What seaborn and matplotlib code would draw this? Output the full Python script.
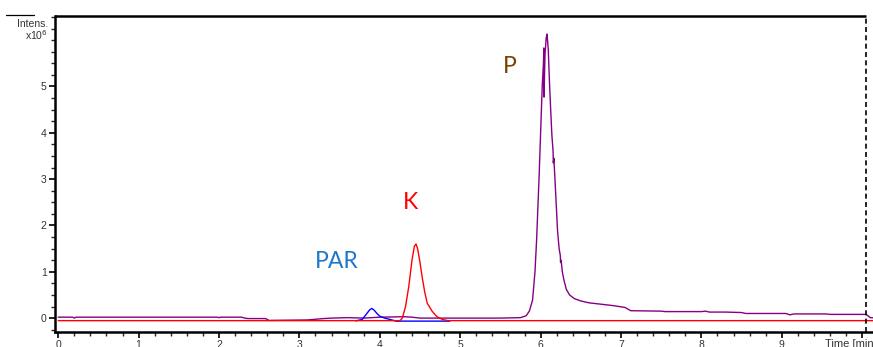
import matplotlib
matplotlib.use("Agg")
import matplotlib.pyplot as plt
import seaborn as sns
from matplotlib.ticker import MultipleLocator

# chromatogram traces (time in min, intensity in 1e6)
p_time = [0.0, 0.18, 0.2, 0.22, 1.98, 2.0, 2.02, 2.28, 2.32, 2.36, 2.58, 2.62, 3.1, 3.3,
          3.4, 3.6, 3.8, 4.0, 4.3, 4.4, 4.5, 4.8, 5.0, 5.5, 5.75, 5.82, 5.86, 5.9, 5.93,
          5.95, 5.98, 6.0, 6.02, 6.035, 6.04, 6.042, 6.055, 6.07, 6.08, 6.095, 6.11, 6.125,
          6.14, 6.155, 6.158, 6.165, 6.19, 6.21, 6.23, 6.245, 6.248, 6.255, 6.27, 6.29,
          6.32, 6.36, 6.42, 6.5, 6.6, 6.75, 6.9, 7.05, 7.12, 7.5, 7.55, 8.0, 8.05, 8.1,
          8.3, 8.5, 8.55, 9.05, 9.1, 9.15, 9.55, 9.6, 10.05, 10.1, 10.2]
p_int = [0.02, 0.02, 0.0, 0.02, 0.02, 0.01, 0.02, 0.02, 0.0, -0.01, -0.01, -0.05, -0.04, -0.01,
         0.0, 0.01, 0.0, 0.02, 0.03, 0.02, 0.0, 0.0, 0.0, 0.0, 0.01, 0.05, 0.15, 0.39, 1.0,
         1.68, 3.0, 4.0, 5.0, 5.5, 5.83, 4.77, 5.7, 6.05, 6.13, 5.8, 5.1, 4.5,
         3.95, 3.6, 3.35, 3.45, 2.6, 1.9, 1.5, 1.35, 1.2, 1.25, 1.0, 0.82,
         0.62, 0.5, 0.42, 0.37, 0.33, 0.3, 0.27, 0.23, 0.16, 0.15, 0.14, 0.14, 0.15, 0.13,
         0.13, 0.12, 0.10, 0.10, 0.07, 0.09, 0.09, 0.08, 0.08, 0.01, 0.0]

k_time = [0.0, 4.25, 4.28, 4.32, 4.36, 4.40, 4.43, 4.45, 4.47, 4.50, 4.53, 4.56, 4.59,
          4.65, 4.71, 4.78, 4.85, 10.2]
k_int = [-0.055, -0.055, 0.0, 0.25, 0.68, 1.25, 1.55, 1.6, 1.5, 1.2, 0.85, 0.55, 0.32,
         0.15, 0.03, -0.03, -0.055, -0.055]

par_time = [3.7, 3.78, 3.83, 3.87, 3.90, 3.93, 3.97, 4.0, 4.06, 4.13, 4.2, 4.87]
par_int = [-0.06, -0.03, 0.08, 0.17, 0.21, 0.17, 0.09, 0.04, 0.0, -0.03, -0.065, -0.065]

labels = ["PAR", "K", "P"]
label_x = [3.46, 4.38, 5.62]
label_y = [1.23, 2.5, 5.42]
label_colors = ["#1E78C8", "#FF0000", "#7B3F00"]

x_ticks = list(range(0, 11))
x_ticklabels = [str(v) for v in range(0, 10)] + [""]
y_ticks = list(range(0, 6))

sns.set_style("white")
plt.rcParams["font.family"] = ["Liberation Sans", "DejaVu Sans"]

x0, x1 = -0.04, 10.17
y0, y1 = -0.30, 6.52

fig = plt.figure(figsize=(8.73, 3.47), dpi=100)
ax = fig.add_axes([55 / 873, 15 / 347, (x1 - x0) * 80.4 / 873, 316 / 347])

sns.lineplot(x=p_time, y=p_int, ax=ax, color="#850085", lw=1.0, estimator=None, sort=False)
sns.lineplot(x=par_time, y=par_int, ax=ax, color="#0000FF", lw=1.0, estimator=None, sort=False)
sns.lineplot(x=k_time, y=k_int, ax=ax, color="#FF0000", lw=1.0, estimator=None, sort=False)

ax.set_xlim(x0, x1)
ax.set_ylim(y0, y1)

for txt, lx, ly, c in zip(labels, label_x, label_y, label_colors):
    ax.text(lx, ly, txt, color=c, fontsize=16.5, family=["Lato", "DejaVu Sans"],
            ha="center", va="center")

ax.set_xticks(x_ticks)
ax.set_xticklabels(x_ticklabels)
ax.set_yticks(y_ticks)
ax.xaxis.set_minor_locator(MultipleLocator(0.2))
ax.yaxis.set_minor_locator(MultipleLocator(0.25))
ax.tick_params(axis="both", which="major", direction="out", length=4, width=1.2,
               labelsize=7.5, colors="black", labelcolor="#333333", pad=2,
               bottom=True, left=True)
ax.tick_params(axis="both", which="minor", direction="out", length=3, width=1.0,
               bottom=True, left=True)

for side in ["top", "right"]:
    ax.spines[side].set_visible(False)
for side in ["left", "bottom"]:
    ax.spines[side].set_linewidth(1.8)
    ax.spines[side].set_color("black")

# top border stops at the dashed end marker
ax.hlines(y1, x0, 10.05, color="black", lw=1.8, clip_on=False)
ax.axvline(10.05, color="black", lw=1.2, ls=(0, (3, 2)))

fig.text(48 / 873, 1 - 24 / 347, "Intens.", fontsize=7.5, color="#333333", ha="right", va="center")
fig.text(48 / 873, 1 - 35 / 347, "x10$^6$", fontsize=7.5, color="#333333", ha="right", va="center")
fig.add_artist(plt.Line2D([6 / 873, 34 / 873], [1 - 15 / 347, 1 - 15 / 347], color="black", lw=0.9))
fig.text(825 / 873, 1 - 344 / 347, "Time [min]", fontsize=8, color="#333333", ha="left", va="center")

fig.savefig("out.png", dpi=100)
